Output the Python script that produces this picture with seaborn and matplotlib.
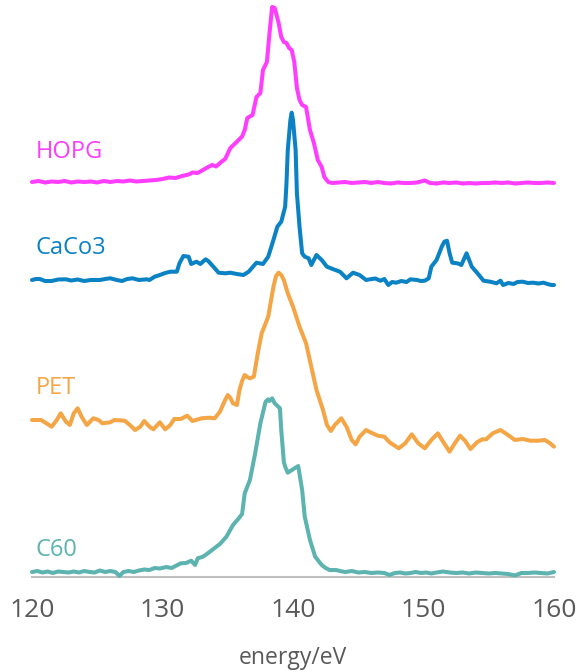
import pandas as pd
import matplotlib
matplotlib.use("Agg")
import matplotlib.pyplot as plt
import seaborn as sns

# ===== DATA (intensity in arbitrary units) =====
HOPG_E = [120.0, 120.5, 121.0, 121.5, 122.0, 122.5, 123.0, 123.5, 124.0, 124.5, 125.0, 125.5,
          126.0, 126.5, 127.0, 127.5, 128.0, 128.5, 129.0, 129.5, 130.0, 130.5, 131.0, 131.5,
          132.0, 132.3, 132.7, 133.1, 133.5, 133.8, 134.1, 134.5, 134.8, 135.2, 135.6, 136.1,
          136.3, 136.5, 136.9, 137.2, 137.5, 137.7, 138.0, 138.2, 138.4, 138.6, 138.9, 139.1,
          139.3, 139.5, 139.7, 139.9, 140.1, 140.3, 140.5, 140.7, 141.0, 141.3, 141.6, 141.9,
          142.2, 142.4, 142.7, 143.0, 143.5, 144.0, 144.5, 145.0, 145.5, 146.0, 146.5, 147.0,
          147.5, 148.0, 148.5, 149.0, 149.5, 150.1, 150.5, 151.0, 151.5, 152.0, 152.5, 153.0,
          153.5, 154.0, 154.5, 155.0, 155.5, 156.0, 156.5, 157.0, 157.5, 158.0, 158.5, 159.0,
          159.5, 160.0]
HOPG_I = [0, 1, -0.5, 0.5, 0, 1, -0.5, 0.5, 0, 0.5, -0.5, 1,
          0, 1, 0.5, 1.5, 0.5, 1, 1.5, 2, 3, 4.5, 4, 6,
          7.5, 9.5, 9, 12, 15, 17, 15.5, 20, 23, 34, 39, 45.5,
          52, 64, 67, 85, 89, 112, 120, 149, 175, 174, 159, 145,
          140, 139, 134, 132, 120, 94, 82, 77, 75, 52, 39, 22,
          15, 5, 0, -1, -0.5, 0, -1, -0.5, 0, -1, 0, -1,
          -1.5, -0.5, -1, -1, -0.5, 1.5, -1, -1.5, -0.5, -1, -0.5, -1.5,
          -1, -1.5, -1, -1, -0.5, -1, -0.5, -1.5, -1, -0.5, -1, -1,
          -0.5, -1]

CACO3_E = [120.0, 120.3, 120.6, 121.0, 121.5, 122.0, 122.6, 123.0, 123.5, 124.0, 124.5, 125.2,
           125.6, 126.0, 126.5, 126.9, 127.3, 127.7, 128.2, 128.8, 129.0, 129.4, 129.8, 130.2,
           130.6, 131.1, 131.3, 131.6, 132.0, 132.2, 132.6, 132.9, 133.3, 133.5, 133.9, 134.3,
           134.8, 135.2, 135.7, 136.2, 136.6, 137.2, 137.7, 138.1, 138.5, 138.8, 139.1, 139.4,
           139.5, 139.6, 139.8, 139.9, 140.0, 140.2, 140.3, 140.5, 140.7, 140.9, 141.2, 141.4,
           141.8, 142.2, 142.6, 143.1, 143.6, 144.1, 144.6, 145.1, 145.6, 145.9, 146.3, 146.7,
           147.0, 147.3, 147.6, 147.9, 148.3, 148.7, 149.0, 149.5, 149.8, 150.1, 150.4, 150.6,
           151.0, 151.4, 151.6, 151.8, 152.0, 152.2, 152.6, 152.9, 153.3, 153.4, 153.7, 154.1,
           154.6, 155.1, 155.6, 155.9, 156.1, 156.5, 156.9, 157.2, 157.6, 158.0, 158.4, 158.8,
           159.2, 159.5, 159.8, 160.0]
CACO3_I = [0, 1, 1, -1, -1, 0.5, 0.7, -0.5, 0.5, -1, 0, 0,
           1, 1.7, 0, -1, 1, 1.7, 0, 0.7, 0, 3.3, 5, 7,
           8.3, 8.3, 16.7, 24, 23.3, 16, 18.3, 16, 20.7, 19, 13.3, 7.3,
           6.7, 7.3, 6, 5, 8.3, 17.3, 16, 23.3, 40, 53.3, 58.3, 73.3,
           96.7, 130, 160, 167.3, 160, 130, 86.7, 53.3, 26.7, 23.3, 21.7, 15,
           25, 20, 13.3, 10.7, 8.3, 1.7, 7.3, 5, 0, 0.7, 1.5, -0.7,
           1, -5, -2, -2.7, -1, -2, 0.7, 0, -1, -0.7, 1.7, 13.3,
           20, 33.3, 38.3, 39.3, 26.7, 17.3, 16.7, 15, 26.7, 23.3, 13.3, 7.3,
           -0.7, -1.7, -3.3, -0.7, -5, -3, -4, -2, -1.7, -3, -2.7, -3.5,
           -2.7, -4, -5, -5]

PET_E = [120.0, 120.7, 121.1, 121.5, 121.9, 122.2, 122.6, 122.9, 123.2, 123.5,
         123.8, 124.2, 124.7, 125.1, 125.4, 126.0, 126.3, 127.1, 127.5, 127.9,
         128.3, 128.6, 129.0, 129.3, 129.8, 130.2, 130.6, 130.9, 131.4, 131.9,
         132.3, 133.0, 133.6, 134.0, 134.4, 134.8, 135.0, 135.2, 135.4, 135.7,
         135.9, 136.1, 136.3, 136.5, 136.7, 137.0, 137.3, 137.6, 138.1, 138.5,
         138.7, 138.9, 139.1, 139.3, 139.6, 140.0, 140.5, 141.0, 141.4, 141.8,
         142.3, 142.6, 142.9, 143.2, 143.7, 144.1, 144.5, 144.8, 145.1, 145.6,
         146.0, 146.5, 147.0, 147.4, 148.1, 148.6, 149.1, 149.6, 150.1, 150.6,
         151.1, 151.5, 152.0, 152.4, 152.8, 153.2, 153.6, 154.1, 154.5, 154.8,
         155.3, 155.9, 156.4, 157.0, 157.6, 158.2, 158.8, 159.3, 159.7, 160.0]
PET_I = [1, 1, -2.3, -5.7, 1, 7.7, -0.7, -4, 7.7, 12.7,
         4.3, -4, 2.7, 1, -2.3, -1.3, 1, 0.3, -4, -9,
         -5.7, 0, -5.7, -8.3, -1.3, -8.3, -4, 2, 2, 5.3,
         0, 2.7, 3.3, 2.7, 9.3, 21, 26, 23, 17.7, 16,
         31, 40, 46, 44, 42.7, 44.3, 67.7, 87.7, 104.3, 134.3,
         145, 148.3, 146, 141, 127.7, 114.3, 94.3, 77.7, 54.3, 31,
         11, -4, -10, -4, 2.7, -5.7, -19, -23.3, -15.7, -9,
         -11.7, -14.7, -15.7, -21.3, -27.3, -22.3, -13.3, -22.3, -27.3, -19,
         -12.3, -20.7, -30.7, -22.3, -14.7, -20, -28, -21.3, -18.3, -18.3,
         -12.3, -9, -13.3, -19, -18, -19.7, -19.7, -19, -22.3, -25.7]

C60_E = [120.0, 120.4, 120.8, 121.2, 121.6, 122.0, 122.4, 122.8, 123.2, 123.6, 124.0, 124.4,
         124.8, 125.2, 125.6, 126.0, 126.4, 126.7, 127.0, 127.4, 127.8, 128.2, 128.6, 129.0,
         129.4, 129.8, 130.3, 130.7, 131.0, 131.4, 131.8, 132.2, 132.5, 132.7, 133.1, 133.4,
         133.8, 134.1, 134.4, 134.9, 135.4, 135.8, 136.1, 136.3, 136.7, 137.1, 137.5, 137.9,
         138.1, 138.2, 138.4, 138.6, 139.0, 139.1, 139.3, 139.4, 139.6, 139.8, 140.0, 140.4,
         140.7, 140.9, 141.3, 141.7, 142.2, 142.5, 142.8, 143.3, 143.6, 144.0, 144.5, 145.0,
         145.5, 146.0, 146.5, 147.0, 147.4, 147.8, 148.2, 148.6, 149.0, 149.4, 149.8, 150.2,
         150.6, 151.0, 151.5, 152.0, 152.5, 153.0, 153.5, 154.0, 154.5, 155.0, 155.5, 156.0,
         156.5, 157.0, 157.5, 158.0, 158.5, 159.0, 159.5, 160.0]
C60_I = [0, 1, -0.5, 0.5, -1, 0.5, 0, -0.5, 0.5, -0.5, 1, 0,
         -0.5, 1.5, 0, 1, 0, -4, 0, 1, 0, 1.5, 2.5, 2,
         4, 3.5, 5, 4, 6, 8.7, 9, 11.3, 7, 13.7, 15.3, 18,
         22, 25, 28, 35.3, 47, 53, 58, 78.7, 92, 118.7, 148.7, 170.3,
         172.7, 171, 173.7, 168.7, 163.7, 142, 110, 105.3, 99.3, 101, 102.7, 106,
         82, 55.3, 32, 15.3, 7, 4, 2, 2, 1, 0, 1, -0.5,
         0, -1, -0.5, -1, -3, -1, -0.5, -1.5, -1, 0, -1, -0.5,
         -1.5, -0.5, 0.5, -0.5, -1, -0.5, -1.5, -0.5, -1, -1.5, -1, -1.5,
         -2, -3.5, -1, -1, -0.5, -1, -1.5, 0]

SAMPLES = ["HOPG", "CaCo3", "PET", "C60"]
OFFSETS = [395, 297, 156, 5]
LABEL_Y = [425, 329, 189, 27]
COLORS = ["#FF3DFF", "#0A82C4", "#F4A546", "#5CB3AF"]
X_TICKS = [120, 130, 140, 150, 160]

# ===== BUILD TABLE =====
frames = []
for name, e, i, off in zip(SAMPLES, [HOPG_E, CACO3_E, PET_E, C60_E],
                           [HOPG_I, CACO3_I, PET_I, C60_I], OFFSETS):
    d = pd.DataFrame({"energy": e, "intensity": i})
    d["shifted"] = d["intensity"] + off
    d["sample"] = name
    frames.append(d)
df = pd.concat(frames, ignore_index=True)

# ===== PLOT =====
sns.set_style("white")
plt.rcParams["font.family"] = ["Open Sans", "DejaVu Sans"]

fig = plt.figure(figsize=(5.77, 6.72), dpi=100)
ax = fig.add_axes([32 / 577, 95 / 672, 522 / 577, 577 / 672])

sns.lineplot(data=df, x="energy", y="shifted", hue="sample", hue_order=SAMPLES,
             palette=dict(zip(SAMPLES, COLORS)), estimator=None, sort=False,
             linewidth=2.9, legend=False, ax=ax)
for line in ax.lines:
    line.set_clip_on(False)
    line.set_solid_joinstyle("round")
    line.set_solid_capstyle("round")

for name, y, c in zip(SAMPLES, LABEL_Y, COLORS):
    ax.text(120.3, y, name, color=c, fontsize=17, va="center", ha="left")

ax.set_xlim(120, 160)
ax.set_ylim(0, 577)
ax.set_xticks(X_TICKS)
ax.set_yticks([])
ax.tick_params(axis="x", length=0, pad=15, labelsize=19, labelcolor="#595959")
ax.set_xlabel("energy/eV", fontsize=16.5, color="#595959", labelpad=17)
ax.set_ylabel("")
for s in ["top", "right", "left"]:
    ax.spines[s].set_visible(False)
ax.spines["bottom"].set_color("#BFBFBF")
ax.spines["bottom"].set_linewidth(1.5)
ax.spines["bottom"].set_zorder(0)

fig.savefig("out.png", dpi=100)
